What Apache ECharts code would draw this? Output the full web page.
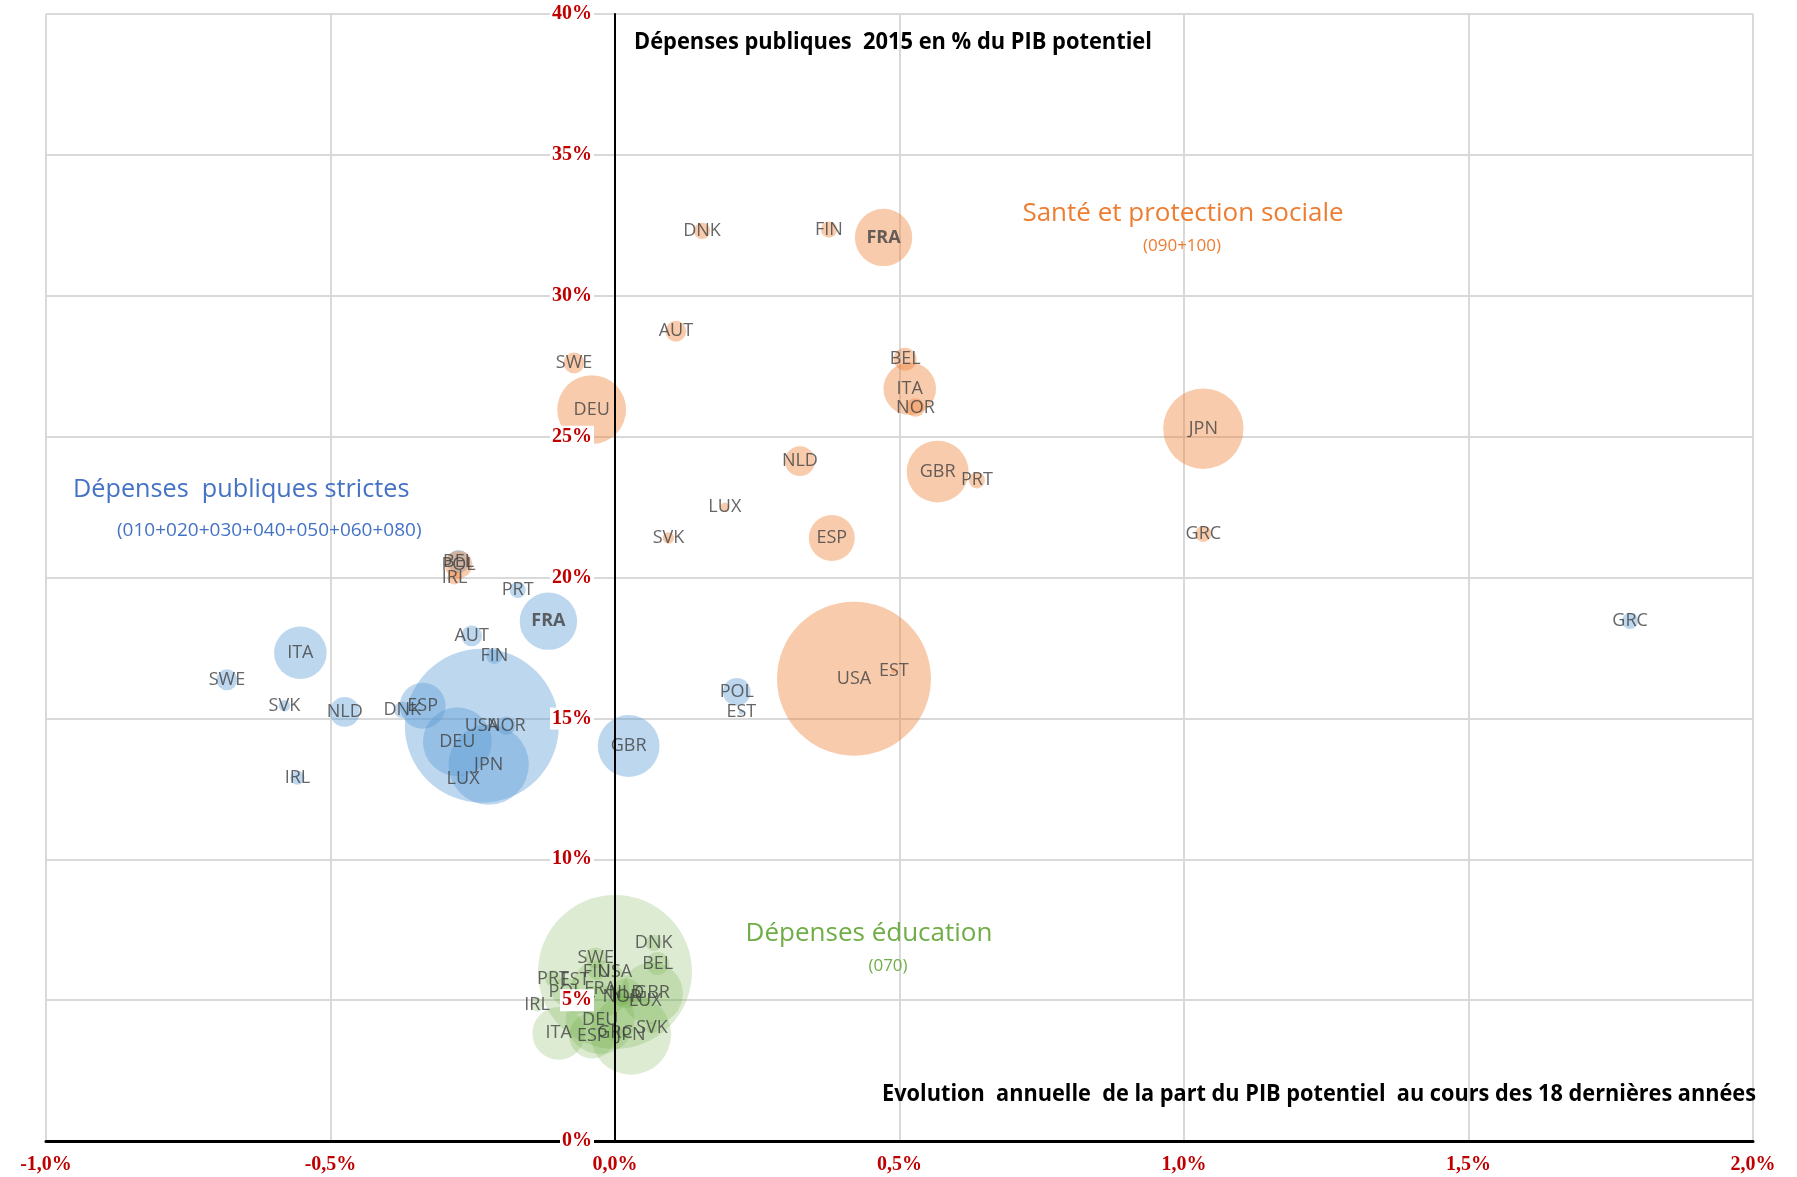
<!DOCTYPE html>
<html>
<head>
<meta charset="utf-8">
<script src="https://cdn.jsdelivr.net/npm/echarts@6/dist/echarts.min.js"></script>
<style>
  html, body { margin: 0; padding: 0; background: #fff; }
  #chart { width: 1797px; height: 1177px; }
</style>
</head>
<body>
<div id="chart"></div>
<script>
// poids des bulles (PIB, estimé d'après la taille des bulles)
const pays = ['USA', 'JPN', 'DEU', 'GBR', 'FRA', 'ITA', 'ESP', 'NLD', 'POL', 'BEL', 'SWE',
  'AUT', 'NOR', 'DNK', 'FIN', 'PRT', 'GRC', 'IRL', 'SVK', 'LUX', 'EST'];
const pib = [18000, 4900, 3600, 2900, 2500, 2100, 1600, 680, 580, 400, 330,
  330, 260, 200, 200, 200, 200, 150, 100, 60, 20];

// Dépenses publiques strictes
const paysStrictes = ['GRC', 'PRT', 'FRA', 'ITA', 'AUT', 'FIN', 'SWE', 'SVK', 'NLD', 'DNK', 'ESP',
  'USA', 'DEU', 'NOR', 'JPN', 'LUX', 'GBR', 'POL', 'EST', 'IRL', 'BEL'];
const evolStrictes = [1.784, -0.171, -0.117, -0.553, -0.252, -0.212, -0.682, -0.581, -0.475, -0.374, -0.338,
  -0.234, -0.277, -0.191, -0.222, -0.267, 0.024, 0.214, 0.222, -0.558, -0.275];
const niveauStrictes = [18.46, 19.56, 18.45, 17.33, 17.93, 17.22, 16.37, 15.45, 15.23, 15.3, 15.45,
  14.74, 14.17, 14.74, 13.36, 12.86, 14.02, 15.94, 15.23, 12.89, 20.57];

// Santé et protection sociale
const paysSante = ['DNK', 'FIN', 'FRA', 'AUT', 'SWE', 'DEU', 'BEL', 'ITA', 'NOR', 'JPN', 'NLD',
  'GBR', 'PRT', 'LUX', 'ESP', 'SVK', 'GRC', 'USA', 'EST', 'POL', 'IRL'];
const evolSante = [0.153, 0.376, 0.472, 0.107, -0.072, -0.041, 0.51, 0.518, 0.528, 1.034, 0.325,
  0.567, 0.636, 0.193, 0.381, 0.094, 1.034, 0.42, 0.49, -0.275, -0.282];
const niveauSante = [32.3, 32.35, 32.07, 28.74, 27.62, 25.96, 27.75, 26.7, 26.03, 25.28, 24.13,
  23.76, 23.45, 22.5, 21.4, 21.4, 21.55, 16.41, 16.7, 20.46, 20.0];

// Dépenses éducation
const paysEducation = ['USA', 'DNK', 'BEL', 'SWE', 'FIN', 'PRT', 'EST', 'FRA', 'POL', 'NLD', 'NOR',
  'GBR', 'LUX', 'IRL', 'AUT', 'DEU', 'ITA', 'ESP', 'GRC', 'JPN', 'SVK'];
const evolEducation = [0.0, 0.068, 0.075, -0.034, -0.032, -0.109, -0.071, -0.026, -0.087, 0.02, 0.012,
  0.065, 0.053, -0.137, -0.065, -0.026, -0.099, -0.04, 0.0, 0.028, 0.065];
const niveauEducation = [6.0, 7.03, 6.3, 6.5, 6.0, 5.77, 5.73, 5.4, 5.3, 5.24, 5.12,
  5.24, 4.96, 4.84, 4.88, 4.31, 3.82, 3.74, 3.82, 3.78, 4.02];

const xTicks = [-1, -0.5, 0, 0.5, 1, 1.5, 2];
const yTicks = [0, 5, 10, 15, 20, 25, 30, 35, 40];

function points(noms, xs, ys) {
  return noms.map((n, i) => [xs[i], ys[i], pib[pays.indexOf(n)], n]);
}

const W = 1797, H = 1177;
const grille = { left: 46, right: 44, top: 14, bottom: 36 };
// décalage de l'axe vertical jusqu'à x = 0
const xMin = xTicks[0], xMax = xTicks[xTicks.length - 1];
const decalageY = -(W - grille.left - grille.right) * (0 - xMin) / (xMax - xMin);

const chart = echarts.init(document.getElementById('chart'));

function serie(nom, data, couleur, fraGras) {
  return {
    type: 'scatter',
    name: nom,
    data: data,
    symbolSize: d => 154 * Math.sqrt(d[2] / 18000),
    itemStyle: { color: couleur },
    label: {
      show: true,
      position: 'inside',
      color: '#404040',
      fontSize: 18,
      fontFamily: 'Open Sans',
      formatter: p => (fraGras && p.data[3] === 'FRA') ? '{b|FRA}' : p.data[3],
      rich: { b: { fontWeight: 'bold', fontSize: 18, color: '#404040', fontFamily: 'Open Sans' } }
    },
    emphasis: { disabled: true },
    silent: true
  };
}

const police = '"Open Sans", sans-serif';

function texte(txt, x, y, font, couleur, align, sx) {
  return {
    type: 'text', x: x, y: y, z: 30, scaleX: sx || 1,
    style: { text: txt, font: font + ' ' + police, fill: couleur, align: align, verticalAlign: 'middle' }
  };
}

chart.setOption({
  animation: false,
  grid: Object.assign({ outerBoundsMode: 'none' }, grille),
  xAxis: {
    type: 'value', min: xMin, max: xMax, interval: 0.5,
    axisLine: { lineStyle: { color: '#000', width: 3 } },
    axisTick: { show: false },
    axisLabel: {
      margin: 14,
      color: '#c00000', fontFamily: 'Liberation Serif', fontWeight: 'bold', fontSize: 20,
      formatter: v => v.toFixed(1).replace('.', ',') + '%'
    },
    splitLine: { lineStyle: { color: '#d9d9d9', width: 2 } }
  },
  yAxis: [{
    // axe vertical à x = 0, étiquettes au-dessus des bulles
    type: 'value', min: yTicks[0], max: yTicks[yTicks.length - 1], interval: 5, position: 'left',
    offset: decalageY,
    z: 20,
    axisLine: { onZero: false, lineStyle: { color: '#000', width: 2 } },
    axisTick: { show: false },
    splitLine: { show: false },
    axisLabel: {
      margin: 21,
      color: '#c00000', fontFamily: 'Liberation Serif', fontWeight: 'bold', fontSize: 20,
      backgroundColor: '#fff', padding: [1, 2],
      formatter: v => v + '%'
    }
  }, {
    // quadrillage horizontal, sous les bulles
    type: 'value', min: yTicks[0], max: yTicks[yTicks.length - 1], interval: 5, position: 'left',
    axisLine: { show: false, onZero: false },
    axisTick: { show: false },
    axisLabel: { show: false },
    splitLine: { lineStyle: { color: '#d9d9d9', width: 2 } }
  }],
  series: [
    serie('Dépenses publiques strictes', points(paysStrictes, evolStrictes, niveauStrictes), 'rgba(91,155,213,0.5)', true),
    serie('Santé et protection sociale', points(paysSante, evolSante, niveauSante), 'rgba(237,125,49,0.5)', true),
    serie('Dépenses éducation', points(paysEducation, evolEducation, niveauEducation), 'rgba(112,173,71,0.3)', false)
  ],
  graphic: [
    texte('Dépenses publiques  2015 en % du PIB potentiel', 634, 42, 'bold 24px', '#000', 'left', 0.91),
    texte('Evolution  annuelle  de la part du PIB potentiel  au cours des 18 dernières années', 1756, 1094, 'bold 24px', '#000', 'right', 0.905),
    texte('Santé et protection sociale', 1183, 214, '26px', '#ED7D31', 'center'),
    texte('(090+100)', 1182, 246, '17px', '#ED7D31', 'center'),
    texte('Dépenses  publiques strictes', 73, 490, '26px', '#4472C4', 'left', 0.97),
    texte('(010+020+030+040+050+060+080)', 117, 531, '19px', '#4472C4', 'left'),
    texte('Dépenses éducation', 869, 934, '26px', '#70AD47', 'center'),
    texte('(070)', 888, 966, '17px', '#70AD47', 'center')
  ]
});
</script>
</body>
</html>
